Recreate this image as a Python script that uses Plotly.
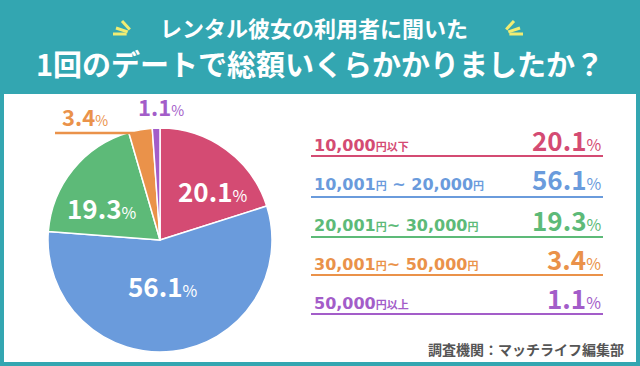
import re
import plotly.graph_objects as go

W, H = 640, 366

# ---- data ----
categories = ["10,000円以下", "10,001円 ~ 20,000円", "20,001円~ 30,000円",
              "30,001円~ 50,000円", "50,000円以上"]
values = [20.1, 56.1, 19.3, 3.4, 1.1]
colors = ["#d44b73", "#6a9bdc", "#5dba78", "#ea924a", "#a35dc9"]
title_line1 = "レンタル彼女の利用者に聞いた"
title_line2 = "1回のデートで総額いくらかかりましたか？"
source = "調査機関：マッチライフ編集部"

# ---- label placement (pixels) ----
label_xy = [(212, 190), (162, 285), (101, 207), (85, 116), (161, 106)]

TEAL = "#33a6b1"
FONT = "Noto Sans CJK JP"
LFONT = "DejaVu Sans, Noto Sans CJK JP"


def px(x):
    return x / W


def py(y):
    return 1 - y / H


def pct(v, small):
    return f"<b>{v:.1f}</b><span style='font-size:{small}px'>%</span>"


def cat_rich(s):
    parts = re.split(r"([円以下上]+)", s)
    out = ""
    for p in parts:
        if not p:
            continue
        if re.fullmatch(r"[円以下上]+", p):
            out += f"<b><span style='font-size:11px'>{p}</span></b>"
        else:
            out += f"<b>{p}</b>"
    return out


fig = go.Figure()
fig.add_trace(go.Pie(
    values=values,
    labels=categories,
    sort=False,
    direction="clockwise",
    rotation=0,
    marker=dict(colors=colors, line=dict(color="white", width=1.5)),
    textinfo="none",
    domain=dict(x=[px(48), px(272)], y=[py(352), py(128)]),
    showlegend=False,
    hoverinfo="label+percent",
))

shapes = []
annotations = []

# white panel
shapes.append(dict(type="rect", xref="paper", yref="paper", layer="below",
                   x0=px(4), x1=px(636), y0=py(362), y1=py(94),
                   fillcolor="white", line=dict(width=0)))

# title
annotations.append(dict(text=f"<b>{title_line1}</b>", x=px(314), y=py(27),
                        xref="paper", yref="paper", showarrow=False,
                        font=dict(family=FONT, size=22, color="white"),
                        xanchor="center", yanchor="middle"))
annotations.append(dict(text=f"<b>{title_line2}</b>", x=px(320), y=py(63),
                        xref="paper", yref="paper", showarrow=False,
                        font=dict(family=FONT, size=29, color="white"),
                        xanchor="center", yanchor="middle"))

# yellow sparkle marks
YEL = "#f1ec72"
for (x0, y0, x1, y1) in [(134, 34, 122, 21), (134, 34, 116, 28), (134, 34, 113, 34),
                         (502, 34, 514, 21), (502, 34, 520, 28), (502, 34, 523, 34)]:
    shapes.append(dict(type="line", xref="paper", yref="paper",
                       x0=px(x0 + (x1 - x0) * 0.35), y0=py(y0 + (y1 - y0) * 0.35),
                       x1=px(x1), y1=py(y1),
                       line=dict(color=YEL, width=3)))

# pie value labels
for i, v in enumerate(values):
    lx, ly = label_xy[i]
    inside = i < 3
    annotations.append(dict(text=pct(v, 16 if inside else 14), x=px(lx), y=py(ly),
                            xref="paper", yref="paper", showarrow=False,
                            font=dict(family=FONT, size=26 if inside else 22,
                                      color="white" if inside else colors[i]),
                            xanchor="center", yanchor="middle"))
# leader line under the 3.4% label
shapes.append(dict(type="line", xref="paper", yref="paper",
                   x0=px(55), x1=px(148), y0=py(133), y1=py(133),
                   line=dict(color=colors[3], width=2.5)))

# right-hand legend rows
row_text_y = [145, 184, 225, 264, 303]
row_line_y = [156, 197, 237, 275, 314]
for i, (c, v, col) in enumerate(zip(categories, values, colors)):
    annotations.append(dict(text=cat_rich(c), x=px(312), y=py(row_text_y[i]),
                            xref="paper", yref="paper", showarrow=False,
                            font=dict(family=LFONT, size=16, color=col),
                            xanchor="left", yanchor="middle"))
    annotations.append(dict(text=pct(v, 16), x=px(603), y=py(row_text_y[i] - 6),
                            xref="paper", yref="paper", showarrow=False,
                            font=dict(family=FONT, size=26, color=col),
                            xanchor="right", yanchor="middle"))
    shapes.append(dict(type="line", xref="paper", yref="paper",
                       x0=px(311), x1=px(603), y0=py(row_line_y[i]), y1=py(row_line_y[i]),
                       line=dict(color=col, width=2)))

# source
annotations.append(dict(text=f"<b>{source}</b>", x=px(626), y=py(349),
                        xref="paper", yref="paper", showarrow=False,
                        font=dict(family=FONT, size=14, color="#555555"),
                        xanchor="right", yanchor="middle"))

fig.update_layout(
    width=W, height=H,
    margin=dict(l=0, r=0, t=0, b=0),
    paper_bgcolor=TEAL,
    plot_bgcolor=TEAL,
    shapes=shapes,
    annotations=annotations,
    font=dict(family=FONT),
)

fig.write_html("out.html",
               config={"displayModeBar": False},
               post_script="document.body.style.margin='0px';document.body.style.overflow='hidden';")
